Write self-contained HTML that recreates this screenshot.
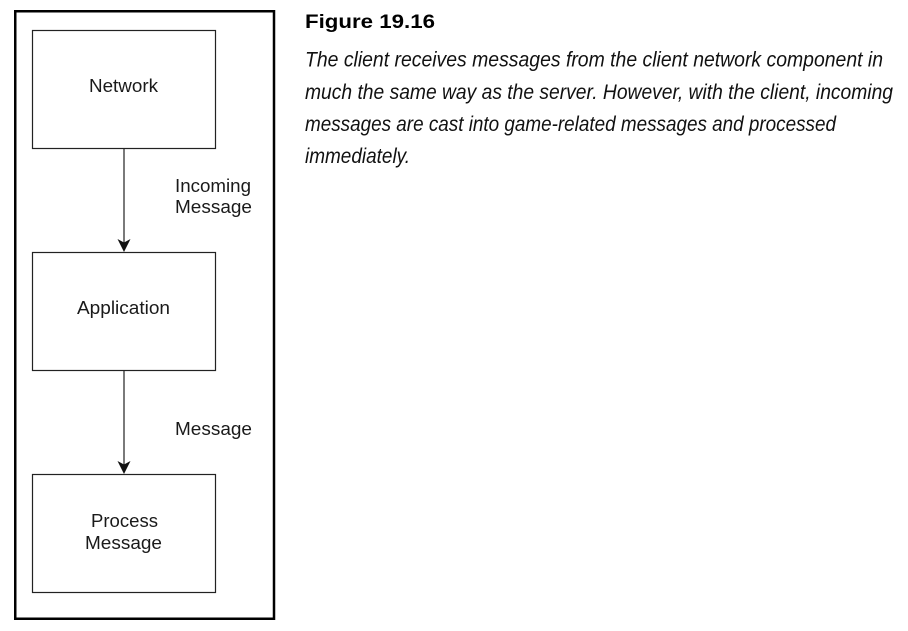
<!DOCTYPE html>
<html>
<head>
<meta charset="utf-8">
<style>
  html, body { margin:0; padding:0; background:#fff; }
  body { width:908px; height:631px; overflow:hidden; }
  svg { display:block; }
  .lbl { font-family:"Liberation Sans", Arial, sans-serif; font-size:18px; fill:#1a1a1a; }
  .cap { font-family:"Liberation Sans", Arial, sans-serif; font-size:21px; font-style:italic; fill:#111; }
  .ttl { font-family:"Liberation Sans", Arial, sans-serif; font-size:19.5px; font-weight:bold; fill:#000; }
</style>
</head>
<body>
<svg width="908" height="631" viewBox="0 0 908 631" xmlns="http://www.w3.org/2000/svg">
  <rect x="0" y="0" width="908" height="631" fill="#fff"/>
  <!-- outer frame -->
  <rect x="15.25" y="11.25" width="258.75" height="607.5" fill="none" stroke="#000" stroke-width="2.5"/>

  <!-- boxes -->
  <rect x="32.5" y="30.5" width="183" height="118" fill="none" stroke="#222" stroke-width="1.2"/>
  <rect x="32.5" y="252.5" width="183" height="118" fill="none" stroke="#222" stroke-width="1.2"/>
  <rect x="32.5" y="474.5" width="183" height="118" fill="none" stroke="#222" stroke-width="1.2"/>

  <!-- arrows -->
  <line x1="124" y1="148.5" x2="124" y2="244" stroke="#222" stroke-width="1.2"/>
  <path d="M117.5,239 L124,242.5 L130.5,239 L124,252 Z" fill="#111"/>
  <line x1="124" y1="370.5" x2="124" y2="466" stroke="#222" stroke-width="1.2"/>
  <path d="M117.5,461 L124,464.5 L130.5,461 L124,474 Z" fill="#111"/>

  <!-- box labels -->
  <text class="lbl" x="89" y="92" textLength="69" lengthAdjust="spacingAndGlyphs">Network</text>
  <text class="lbl" x="77" y="314" textLength="93" lengthAdjust="spacingAndGlyphs">Application</text>
  <text class="lbl" x="91" y="527" textLength="67" lengthAdjust="spacingAndGlyphs">Process</text>
  <text class="lbl" x="85" y="549" textLength="77" lengthAdjust="spacingAndGlyphs">Message</text>

  <!-- connector labels -->
  <text class="lbl" x="175" y="192" textLength="76" lengthAdjust="spacingAndGlyphs">Incoming</text>
  <text class="lbl" x="175" y="213" textLength="77" lengthAdjust="spacingAndGlyphs">Message</text>
  <text class="lbl" x="175" y="435" textLength="77" lengthAdjust="spacingAndGlyphs">Message</text>

  <!-- caption -->
  <text class="ttl" x="305" y="28" textLength="130" lengthAdjust="spacingAndGlyphs">Figure 19.16</text>
  <text class="cap" x="305" y="66.5" textLength="578" lengthAdjust="spacingAndGlyphs">The client receives messages from the client network component in</text>
  <text class="cap" x="305" y="98.8" textLength="588" lengthAdjust="spacingAndGlyphs">much the same way as the server. However, with the client, incoming</text>
  <text class="cap" x="305" y="131" textLength="531" lengthAdjust="spacingAndGlyphs">messages are cast into game-related messages and processed</text>
  <text class="cap" x="305" y="163" textLength="105" lengthAdjust="spacingAndGlyphs">immediately.</text>
</svg>
</body>
</html>
